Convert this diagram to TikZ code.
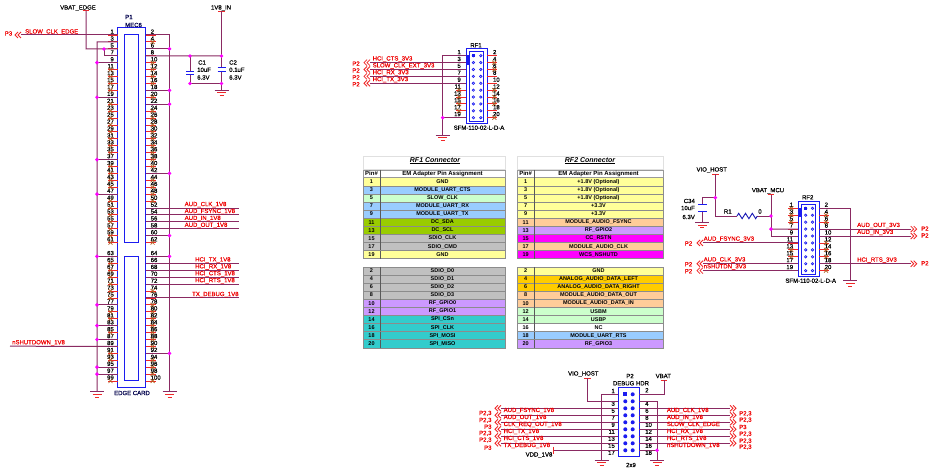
\documentclass[tikz,border=0pt]{standalone}
\usepackage{fontspec}
\setmainfont{Liberation Sans}
\newfontfamily\heavy[FakeBold=0.35]{Liberation Sans}
\definecolor{wirec}{HTML}{8A2A62}
\definecolor{pinc}{HTML}{F02828}
\definecolor{netc}{HTML}{F00000}
\definecolor{boxc}{HTML}{1C1CF0}
\definecolor{juncc}{HTML}{FF00FF}
\definecolor{ncc}{HTML}{B06020}
\definecolor{cY}{HTML}{FFFF99}
\definecolor{cB}{HTML}{99CCFF}
\definecolor{cL}{HTML}{CCFFCC}
\definecolor{cG}{HTML}{99CC00}
\definecolor{cS}{HTML}{C0C0C0}
\definecolor{cP}{HTML}{CC99FF}
\definecolor{cT}{HTML}{33CCCC}
\definecolor{cO}{HTML}{FFCC99}
\definecolor{cM}{HTML}{FF00FF}
\definecolor{cA}{HTML}{FFCC00}
\definecolor{cW}{HTML}{FFFFFF}
\tikzset{
  wire/.style={draw=wirec,line width=1pt},
  pinline/.style={draw=pinc,line width=0.9pt},
  boxline/.style={draw=boxc,line width=1pt},
  junc/.style={circle,fill=juncc,inner sep=0pt,minimum size=3.9pt},
  pinnum/.style={font=\heavy\fontsize{6}{6}\selectfont,text=black,inner sep=0pt},
  nettext/.style={font=\heavy\fontsize{6}{6}\selectfont,text=netc,inner sep=0pt,anchor=west},
  reftext/.style={font=\heavy\fontsize{6}{6}\selectfont,text=netc,inner sep=0pt},
  lbl/.style={font=\heavy\fontsize{6}{6}\selectfont,text=black,inner sep=0pt},
  partlbl/.style={font=\heavy\fontsize{6}{6}\selectfont,text=black!70!blue,inner sep=0pt},
  celltext/.style={font=\fontsize{5.5}{5.5}\selectfont\bfseries,text=black,inner sep=0pt},
  headtext/.style={font=\fontsize{6}{6}\selectfont\bfseries,text=black,inner sep=0pt},
  chevl/.pic={\draw[pinc,line width=0.8pt] (0,-3)--(-3,0)--(0,3) (-3,-3)--(-6,0)--(-3,3);},
  chevr/.pic={\draw[pinc,line width=0.8pt] (0,-3)--(3,0)--(0,3) (3,-3)--(6,0)--(3,3);},
  gndsym/.pic={\draw[wirec,line width=0.9pt] (-7,0)--(7,0);
     \draw[pinc,line width=0.9pt] (-4.5,2.8)--(4.5,2.8) (-2,5.6)--(2,5.6);},
  ncmark/.pic={\draw[ncc,line width=0.7pt] (-2,-2)--(2,2) (-2,2)--(2,-2);},
  tcap/.pic={\draw[pinc,line width=0.9pt] (-3.3,0)--(3.3,0);}
}
% RF style connector: prefix, left, right, first y, step
\newcommand{\rfconn}[5]{%
  \draw[boxline] (#2,#4-7.3) rectangle (#3,#4+5.8+#5*9);
  \draw[boxline] (#2+3.4,#4-4.2) rectangle (#3-3.4,#4+3.4+#5*9);
  \draw[boxc,line width=2pt] (#2+1.5,#4-0.5) -- (#2+1.5,#4+#5+2);
  \foreach \n in {1,3,...,19}{%
    \pgfmathsetmacro\yy{#4+#5*(\n-1)/2}
    \coordinate (#1L\n) at (#2,\yy);
    \draw[pinline] (#2-10,\yy)--(#1L\n);
    \node[pinnum,anchor=east] (#1nL\n) at (#2-5,\yy-3.6) {\n};
    \draw[boxc,line width=0.7pt] (#2+7.4,\yy) circle (1.2);
  }
  \foreach \n in {2,4,...,20}{%
    \pgfmathsetmacro\yy{#4+#5*(\n-2)/2}
    \coordinate (#1R\n) at (#3,\yy);
    \draw[pinline] (#1R\n)--(#3+10,\yy);
    \node[pinnum,anchor=west] (#1nR\n) at (#3+5.5,\yy-3.6) {\n};
    \draw[boxc,line width=0.7pt] (#3-6.5,\yy) circle (1.2);
  }
  \fill[boxc] (#2+5.8,#4-1.6) rectangle ++(3.2,3.2);
}
% table row list: x0, xsplit, x1, prefix, list
\newcommand{\maketable}[5]{%
  \foreach \i/\p/\t/\c in {#5}{%
    \pgfmathsetmacro\yy{181.7+8.1*\i}
    \filldraw[fill=\c,draw=black!45,line width=0.35pt] (#1,\yy-4.05) rectangle (#2,\yy+4.05);
    \filldraw[fill=\c,draw=black!45,line width=0.35pt] (#2,\yy-4.05) rectangle (#3,\yy+4.05);
    \draw[black!65,line width=0.8pt] (#2,\yy-4.05)--(#2,\yy+4.05);
    \node[celltext] (#4pin\p) at ({(#1+#2)/2},\yy) {\p};
    \node[celltext] (#4txt\p) at ({(#2+#3)/2},\yy) {\t};
  }
  \draw[black!12,line width=0.35pt] (#1,156.5)--(#3,156.5) (#1,169.5)--(#3,169.5) (#1,156.5)--(#1,177.6) (#3,156.5)--(#3,177.6);
  \filldraw[fill=white,draw=black!40,line width=0.35pt] (#1,169.8) rectangle (#3,177.65);
  \draw[black!65,line width=0.8pt] (#2,169.8)--(#2,177.65);
  \node[headtext] (#4hpin) at ({(#1+#2)/2},173.8) {Pin\#};
  \node[headtext] (#4hass) at ({(#2+#3)/2},173.8) {EM Adapter Pin Assignment};
}
\begin{document}
\begin{tikzpicture}[x=1pt,y=-1pt]
\useasboundingbox (0,0) rectangle (932,476);
\fill[white] (0,0) rectangle (932,476);

%% ---------- P1 edge connector ----------
\draw[boxline] (117.5,28) rectangle (145.6,387);
\draw[boxline] (124.5,35) rectangle (138.5,242.2);
\draw[boxline] (124.5,256) rectangle (138.5,380.7);
\foreach \n in {1,3,...,99}{%
  \pgfmathsetmacro\yy{35+6.92*(\n-1)/2+(\n>=63?6.92:0)}
  \coordinate (L\n) at (117.5,\yy);
  \draw[pinline] (108,\yy)--(L\n);
  \node[pinnum,anchor=east] (nL\n) at (114,\yy-3.4) {\n};
}
\foreach \n in {2,4,...,100}{%
  \pgfmathsetmacro\yy{35+6.92*(\n-2)/2+(\n>=64?6.92:0)}
  \coordinate (R\n) at (145.6,\yy);
  \draw[pinline] (R\n)--(155.5,\yy);
  \node[pinnum,anchor=west] (nR\n) at (150.5,\yy-3.4) {\n};
}
\foreach \n in {11,13,15,17,21,23,25,27,29,31,33,35,39,41,43,45,49,51,53,55,57,59,61,65,67,69,71,73,75,79,81,85,91,93,99}{\pic at ([xshift=-7pt]L\n) {ncmark};}
\foreach \n in {4,10,12,14,16,20,24,26,28,30,32,34,36,38,40,44,46,48,50,62,74,78,80,82,84,86,88,90,94,96,98,100}{\pic at ([xshift=7pt]R\n) {ncmark};}

% left ground bus
\coordinate (busL) at (97,42);
\coordinate (busLb) at (97,391.7);
\draw[wire] (L3)--(busL)--(busLb);
\pic at (busLb) {gndsym};
\foreach \n in {9,19,37,47,63,77,83,87,95,97}{%
  \draw[wire] (busL |- L\n)--(L\n);
  \node[junc] (jL\n) at (busL |- L\n) {};
}
% right ground bus
\coordinate (busR) at (169.5,35);
\coordinate (busRb) at (169.5,391.7);
\draw[wire] (R2)--(busR)--(busRb);
\pic at (busRb) {gndsym};
\foreach \n in {6,18,22,42,60,64,92}{%
  \draw[wire] (R\n)--(busR |- R\n);
  \node[junc] (jR\n) at (busR |- R\n) {};
}
% VBAT_EDGE
\node[lbl] (vbate) at (78,8) {VBAT\_EDGE};
\coordinate (vbattop) at (86,10.5);
\coordinate (vbatj) at (104,49);
\pic at (vbattop) {tcap};
\draw[wire] (vbattop)--(86,49)--(L5);
\draw[wire] (vbatj)--(vbatj |- L7)--(L7);
\node[junc] (jvbat) at (vbatj) {};
% SLOW_CLK
\coordinate (slowend) at (21,35);
\draw[wire] (slowend)--(L1);
\pic at (slowend) {chevl};
\node[reftext] (refslow) at (8.5,33.5) {P3};
\node[nettext] (netslow) at (25,32) {SLOW\_CLK\_EDGE};
% nSHUTDOWN
\coordinate (nshutend) at (10,346.2);
\draw[wire] (nshutend)--(L89);
\node[nettext] (netnshut) at (12,342.8) {nSHUTDOWN\_1V8};
% right signals
\foreach \n/\t/\x in {52/AUD\_CLK\_1V8/184.5,54/AUD\_FSYNC\_1V8/184.5,56/AUD\_IN\_1V8/184.5,58/AUD\_OUT\_1V8/184.5,66/HCI\_TX\_1V8/195,68/HCI\_RX\_1V8/195,70/HCI\_CTS\_1V8/195,72/HCI\_RTS\_1V8/195,76/TX\_DEBUG\_1V8/192}{%
  \coordinate (sigR\n) at (239,0 |- R\n);
  \draw[wire] (R\n)--(sigR\n);
  \node[nettext,anchor=west] (netR\n) at ([yshift=3.4pt]\x,0 |- R\n) {\t};
}
\node[partlbl,anchor=west] (p1a) at (125,17) {P1};
\node[partlbl,anchor=west] (p1b) at (125,25) {MEC6};
\node[partlbl] (p1c) at (132,393) {EDGE CARD};

% 1V8 rail with C1, C2
\node[lbl] (v18) at (221,8) {1V8\_IN};
\coordinate (v18top) at (221.5,11);
\pic at (v18top) {tcap};
\coordinate (c1t) at (190,56);
\coordinate (c2t) at (221.5,56);
\coordinate (c2b) at (221.5,83.5);
\coordinate (c1b) at (190,83.5);
\draw[wire] (R8)--(c2t);
\draw[wire] (v18top)--(221.5,68);
\draw[wire] (221.5,71.5)--(c2b)--(221.5,90);
\draw[wire] (c1t)--(190,71.5);
\draw[wire] (190,74.5)--(c1b)--(c2b);
\draw[boxc,line width=1pt] (186,71.5)--(194,71.5) (186,74.5)--(194,74.5) (217.5,68)--(225.5,68) (217.5,71.5)--(225.5,71.5);
\pic at (221.5,90) {gndsym};
\node[junc] (jc1t) at (c1t) {};
\node[junc] (jc2t) at (c2t) {};
\node[junc] (jc2b) at (c2b) {};
\node[junc] (jc1b) at (c1b) {};
\node[lbl,anchor=west] (c1a) at (198,62.5) {C1};
\node[lbl,anchor=west] (c1v) at (197,69.8) {10uF};
\node[lbl,anchor=west] (c1w) at (197,77.5) {6.3V};
\node[lbl,anchor=west] (c2a) at (229,62.5) {C2};
\node[lbl,anchor=west] (c2v) at (229,69.8) {0.1uF};
\node[lbl,anchor=west] (c2w) at (229,77.5) {6.3V};

%% ---------- RF1 ----------
\rfconn{A}{466}{487.3}{55.7}{6.89}
\foreach \n in {11,13,15,17}{\pic at ([xshift=-7pt]AL\n) {ncmark};}
\foreach \n in {4,6,12,14,16,20}{\pic at ([xshift=7pt]AR\n) {ncmark};}
\node[lbl] (rf1n) at (476,45.3) {RF1};
\node[lbl] (rf1p) at (479,127.7) {SFM-110-02-L-D-A};
\coordinate (abus) at (442.7,55.7);
\coordinate (abusb) at (442.7,135);
\draw[wire] (AL1)--(abus)--(abusb);
\draw[wire] (abus |- AL19)--(AL19);
\pic at (abusb) {gndsym};
\node[junc] (ja19) at (abus |- AL19) {};
\foreach \n/\t in {3/HCI\_CTS\_3V3,5/SLOW\_CLK\_EXT\_3V3,7/HCI\_RX\_3V3,9/HCI\_TX\_3V3}{%
  \coordinate (as\n) at (370,0 |- AL\n);
  \draw[wire] (as\n)--(AL\n);
  \pic at (as\n) {chevl};
  \node[nettext] (anet\n) at ([yshift=3.6pt]372.5,0 |- AL\n) {\t};
  \node[reftext] (aref\n) at ([yshift=-1pt]356,0 |- AL\n) {P2};
}

%% ---------- Tables ----------
\node[font=\fontsize{7}{7}\selectfont\bfseries\itshape,inner sep=0pt] (t1) at (435,160.7) {\underline{RF1 Connector}};
\node[font=\fontsize{7}{7}\selectfont\bfseries\itshape,inner sep=0pt] (t2) at (590,160.7) {\underline{RF2 Connector}};
\maketable{363}{380}{505}{T}{0/1/GND/cY,1/3/MODULE\_UART\_CTS/cB,2/5/SLOW\_CLK/cL,3/7/MODULE\_UART\_RX/cB,4/9/MODULE\_UART\_TX/cB,5/11/DC\_SDA/cG,6/13/DC\_SCL/cG,7/15/SDIO\_CLK/cS,8/17/SDIO\_CMD/cS,9/19/GND/cY,11/2/SDIO\_D0/cS,12/4/SDIO\_D1/cS,13/6/SDIO\_D2/cS,14/8/SDIO\_D3/cS,15/10/RF\_GPIO0/cP,16/12/RF\_GPIO1/cP,17/14/SPI\_CSn/cT,18/16/SPI\_CLK/cT,19/18/SPI\_MOSI/cT,20/20/SPI\_MISO/cT}
\maketable{517.3}{534}{663}{U}{0/1/+1.8V (Optional)/cY,1/3/+1.8V (Optional)/cY,2/5/+1.8V (Optional)/cY,3/7/+3.3V/cY,4/9/+3.3V/cY,5/11/MODULE\_AUDIO\_FSYNC/cO,6/13/RF\_GPIO2/cP,7/15/CC\_RSTN/cM,8/17/MODULE\_AUDIO\_CLK/cO,9/19/WCS\_NSHUTD/cM,11/2/GND/cY,12/4/ANALOG\_AUDIO\_DATA\_LEFT/cA,13/6/ANALOG\_AUDIO\_DATA\_RIGHT/cA,14/8/MODULE\_AUDIO\_DATA\_OUT/cO,15/10/MODULE\_AUDIO\_DATA\_IN/cO,16/12/USBM/cL,17/14/USBP/cL,18/16/NC/cW,19/18/MODULE\_UART\_RTS/cB,20/20/RF\_GPIO3/cP}

%% ---------- RF2 ----------
\rfconn{B}{798.3}{819}{208.3}{6.93}
\foreach \n in {1,3,5,13,15}{\pic at ([xshift=-7pt]BL\n) {ncmark};}
\foreach \n in {4,6,12,14,16,20}{\pic at ([xshift=7pt]BR\n) {ncmark};}
\node[lbl] (rf2n) at (807.7,197.3) {RF2};
\node[lbl] (rf2p) at (810.7,280.7) {SFM-110-02-L-D-A};
\node[lbl] (vmcu) at (768,190.7) {VBAT\_MCU};
\coordinate (vmcut) at (771,194.5);
\pic at (vmcut) {tcap};
\coordinate (vmcur) at (771,216);
\coordinate (vmcu7) at (771,229.1);
\draw[wire] (vmcut)--(771,0 |- BL9)--(BL9);
\draw[wire] (vmcu7)--(BL7);
\node[lbl] (vhost) at (711.7,170) {VIO\_HOST};
\coordinate (vht) at (715.3,174.3);
\pic at (vht) {tcap};
\coordinate (vhj) at (715.3,197.7);
\coordinate (rl) at (737,216);
\coordinate (rr) at (757.3,216);
\coordinate (c34g) at (702.3,222.3);
\draw[wire] (vht)--(715.3,216)--(rl);
\draw[wire] (rr)--(vmcur);
\draw[boxc!75!black,line width=0.9pt] (rl)--++(1.7,-2.7)--++(3.4,5.4)--++(3.4,-5.4)--++(3.4,5.4)--++(3.4,-5.4)--++(3.4,5.4)--(rr);
\draw[wire] (vhj)--(702.3,197.7)--(702.3,204.3);
\draw[wire] (702.3,211)--(c34g);
\draw[boxc,line width=1pt] (698,204.3)--(706.5,204.3) (698,211)--(706.5,211);
\pic at (c34g) {gndsym};
\node[junc] (jvh) at (vhj) {};
\node[junc] (jmcur) at (vmcur) {};
\node[junc] (jmcu7) at (vmcu7) {};
\node[lbl,anchor=east] (c34a) at (695,201) {C34};
\node[lbl,anchor=east] (c34b) at (695,208) {10uF};
\node[lbl,anchor=east] (c34c) at (695,217) {6.3V};
\node[lbl] (r1a) at (727.7,211.5) {R1};
\node[lbl] (r1b) at (760,211.5) {0};
\coordinate (bgnd) at (850.3,280.7);
\draw[wire] (BR2)--(850.3,0 |- BR2)--(bgnd);
\pic at (bgnd) {gndsym};
\foreach \n/\t in {11/AUD\_FSYNC\_3V3,17/AUD\_CLK\_3V3,19/nSHUTDN\_3V3}{%
  \coordinate (bs\n) at (703,0 |- BL\n);
  \draw[wire] (bs\n)--(BL\n);
  \pic at (bs\n) {chevl};
  \node[nettext] (bnet\n) at ([yshift=3.8pt]703.5,0 |- BL\n) {\t};
  \node[reftext] (bref\n) at ([yshift=-0.5pt]688.5,0 |- BL\n) {P2};
}
\foreach \n/\t in {8/AUD\_OUT\_3V3,10/AUD\_IN\_3V3,18/HCI\_RTS\_3V3}{%
  \coordinate (bt\n) at (910.7,0 |- BR\n);
  \draw[wire] (BR\n)--(bt\n);
  \pic at (bt\n) {chevr};
  \node[nettext] (bnetr\n) at ([yshift=3.6pt]857,0 |- BR\n) {\t};
  \node[reftext,anchor=west] (brefr\n) at ([yshift=0.5pt]921,0 |- BR\n) {P2};
}

%% ---------- P2 debug header ----------
\draw[boxline] (618.3,387.7) rectangle (639.3,456.7);
\foreach \n in {1,3,...,17}{%
  \pgfmathsetmacro\yy{394.3+7*(\n-1)/2}
  \coordinate (DL\n) at (618.3,\yy);
  \draw[pinline] (609,\yy)--(DL\n);
  \pgfmathsetmacro\yo{\n==1?-3.3:2.4}
  \node[pinnum,anchor=east] (dnL\n) at (615,\yy+\yo) {\n};
  \ifnum\n=1\else\fill[boxc] (625.3,\yy) circle (2);\fi
  \fill[boxc] (632.7,\yy) circle (2);
}
\fill[boxc] (623.2,392.2) rectangle (627.4,396.4);
\foreach \n in {2,4,...,18}{%
  \pgfmathsetmacro\yy{394.3+7*(\n-2)/2}
  \coordinate (DR\n) at (639.3,\yy);
  \draw[pinline] (DR\n)--(648.5,\yy);
  \pgfmathsetmacro\yo{\n==2?-4:2.4}
  \node[pinnum,anchor=west] (dnR\n) at (645,\yy+\yo) {\n};
}
\node[lbl] (p2a) at (630,376) {P2};
\node[lbl] (p2b) at (631,383.3) {DEBUG HDR};
\node[lbl] (p2c) at (631,465) {2x9};
% left wires
\coordinate (dbus) at (601.7,394.3);
\coordinate (dbusb) at (601.7,460);
\draw[wire] (DL1)--(dbus)--(dbusb);
\pic at (dbusb) {gndsym};
\node[lbl] (dvio) at (583.3,374) {VIO\_HOST};
\coordinate (dviot) at (587.7,378.3);
\pic at (dviot) {tcap};
\draw[wire] (dviot)--(587.7,0 |- DL3)--(DL3);
\foreach \n/\t/\r/\ry in {5/AUD\_FSYNC\_1V8/{P2,3}/5,7/AUD\_OUT\_1V8/{P2,3}/5,9/CLK\_REQ\_OUT\_1V8/P3/4.4,11/HCI\_TX\_1V8/{P2,3}/4,13/HCI\_CTS\_1V8/{P2,3}/3.7,15/TX\_DEBUG\_1V8/P3/4.4}{%
  \coordinate (ds\n) at (501,0 |- DL\n);
  \draw[wire] (ds\n)--(DL\n);
  \pic at (ds\n) {chevl};
  \node[nettext] (dnet\n) at ([yshift=-2.2pt]503.5,0 |- DL\n) {\t};
  \node[reftext,anchor=east] (dref\n) at ([yshift=-\ry pt]491.7,0 |- DL\n) {\r};
}
\coordinate (dvdd) at (553.3,0 |- DL17);
\draw[wire] (dvdd)--(DL17);
\draw[pinc,line width=0.9pt] (553.3,446.5)--(553.3,453.5);
\node[lbl] (dvddn) at (539,455) {VDD\_1V8};
% right wires
\node[lbl] (dvbat) at (663.3,376) {VBAT};
\coordinate (dvbt) at (664,380);
\pic at (dvbt) {tcap};
\draw[wire] (DR2)--(664,0 |- DR2)--(dvbt);
\coordinate (drbus) at (657,460);
\draw[wire] (DR4)--(657,0 |- DR4)--(drbus);
\draw[wire] (DR18)--(657,0 |- DR18);
\pic at (drbus) {gndsym};
\node[junc] (jd18) at (657,0 |- DR18) {};
\foreach \n/\t/\r/\ry in {6/AUD\_CLK\_1V8/{P2,3}/5.4,8/AUD\_IN\_1V8/{P2,3}/4.7,10/SLOW\_CLK\_EDGE/P3/4.7,12/HCI\_RX\_1V8/{P2,3}/4.7,14/HCI\_RTS\_1V8/{P2,3}/4.7,16/nSHUTDOWN\_1V8/{P2,3}/3.7}{%
  \coordinate (dt\n) at (730,0 |- DR\n);
  \draw[wire] (DR\n)--(dt\n);
  \pic at (dt\n) {chevr};
  \node[nettext] (dnetr\n) at ([yshift=-2.2pt]666.7,0 |- DR\n) {\t};
  \node[reftext,anchor=west] (drefr\n) at ([yshift=-\ry pt]739,0 |- DR\n) {\r};
}
\end{tikzpicture}
\end{document}
